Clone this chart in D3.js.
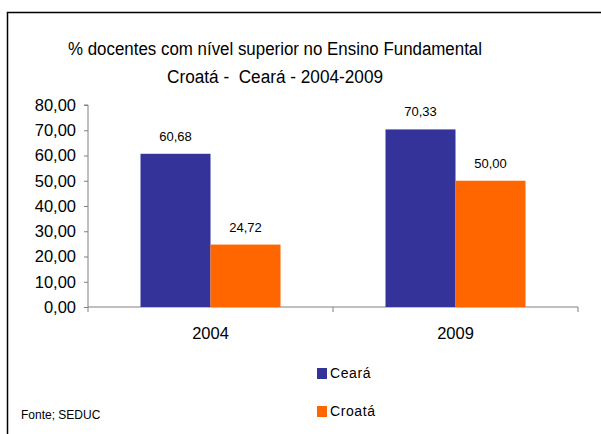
<!DOCTYPE html>
<html>
<head>
<meta charset="utf-8">
<script src="https://cdn.jsdelivr.net/npm/d3@7"></script>
<style>
  body { margin: 0; background: #fff; }
  text { font-family: "Liberation Sans", Arial, sans-serif; fill: #000; }
</style>
</head>
<body>
<svg id="chart" width="601" height="434"></svg>
<script>
// data
const years = ["2004", "2009"];
const seriesNames = ["Ceará", "Croatá"];
const ceara = [60.68, 70.33];
const croata = [24.72, 50.00];
const yTicks = [0, 10, 20, 30, 40, 50, 60, 70, 80];
const colors = ["#333399", "#ff6600"];

const fmt = v => v.toFixed(2).replace(".", ",");

const svg = d3.select("#chart");
const margin = { top: 105, left: 88, right: 23, bottom: 127 };
const width = 601 - margin.left - margin.right;
const height = 434 - margin.top - margin.bottom;

// frame (only top and left visible)
svg.append("path")
    .attr("d", "M7.5,434 L7.5,12.5 L601,12.5")
    .attr("fill", "none")
    .attr("stroke", "#000")
    .attr("stroke-width", 1.5);

// title
svg.append("text")
    .attr("x", 68).attr("y", 55)
    .attr("font-size", 18)
    .attr("textLength", 414).attr("lengthAdjust", "spacingAndGlyphs")
    .text("% docentes com nível  superior no Ensino Fundamental");
svg.append("text")
    .attr("x", 167).attr("y", 83)
    .attr("font-size", 18)
    .attr("textLength", 216).attr("lengthAdjust", "spacingAndGlyphs")
    .style("white-space", "pre")
    .text("Croatá -  Ceará - 2004-2009");

const g = svg.append("g").attr("transform", `translate(${margin.left},${margin.top})`);

const x0 = d3.scaleBand().domain(years).range([0, width]);
const x1 = d3.scaleBand().domain(seriesNames).range([0, 140]);
const y = d3.scaleLinear().domain([0, 80]).range([height, 0]);

const yAxis = g.append("g")
    .call(d3.axisLeft(y).tickValues(yTicks).tickSize(4).tickPadding(8).tickFormat(fmt));
yAxis.selectAll("text").attr("font-size", 16.5).attr("font-family", "Liberation Sans, Arial, sans-serif");
yAxis.selectAll("line, path").attr("stroke", "#808080");
yAxis.select(".domain").attr("d", `M0,${height}V0H-4`);

const xAxis = g.append("g")
    .attr("transform", `translate(0,${height})`)
    .call(d3.axisBottom(x0).tickSize(0).tickPadding(20));
xAxis.select(".domain").attr("stroke", "#808080").attr("d", `M0,0H${width}`);
xAxis.selectAll("text").attr("font-size", 16.5).attr("font-family", "Liberation Sans, Arial, sans-serif");
// boundary ticks between categories
xAxis.selectAll(".sep")
    .data([0, width / 2, width])
    .join("line")
    .attr("class", "sep")
    .attr("x1", d => d).attr("x2", d => d)
    .attr("y1", 0).attr("y2", 5)
    .attr("stroke", "#808080");

const rows = years.map((yr, i) => ({ year: yr, values: [ceara[i], croata[i]] }));

const groups = g.selectAll(".grp")
    .data(rows)
    .join("g")
    .attr("class", "grp")
    .attr("transform", d => `translate(${x0(d.year) + (x0.bandwidth() - 140) / 2},0)`);

groups.selectAll("rect")
    .data(d => d.values.map((v, j) => ({ name: seriesNames[j], v, j })))
    .join("rect")
    .attr("x", d => x1(d.name))
    .attr("y", d => y(d.v))
    .attr("width", x1.bandwidth())
    .attr("height", d => height - y(d.v))
    .attr("fill", d => colors[d.j]);

groups.selectAll(".lbl")
    .data(d => d.values.map((v, j) => ({ name: seriesNames[j], v, j })))
    .join("text")
    .attr("class", "lbl")
    .attr("x", d => x1(d.name) + x1.bandwidth() / 2)
    .attr("y", d => y(d.v) - 13)
    .attr("text-anchor", "middle")
    .attr("font-size", 13)
    .text(d => fmt(d.v));

// legend
const legend = svg.append("g").attr("transform", "translate(317,368)");
const items = legend.selectAll("g")
    .data(seriesNames)
    .join("g")
    .attr("transform", (d, i) => `translate(0,${i * 38})`);
items.append("rect")
    .attr("width", 10).attr("height", 11)
    .attr("fill", (d, i) => colors[i]);
items.append("text")
    .attr("x", 13).attr("y", 10)
    .attr("font-size", 14)
    .attr("letter-spacing", 0.6)
    .text(d => d);

svg.append("text")
    .attr("x", 21).attr("y", 419)
    .attr("font-size", 12)
    .text("Fonte; SEDUC");
</script>
</body>
</html>
